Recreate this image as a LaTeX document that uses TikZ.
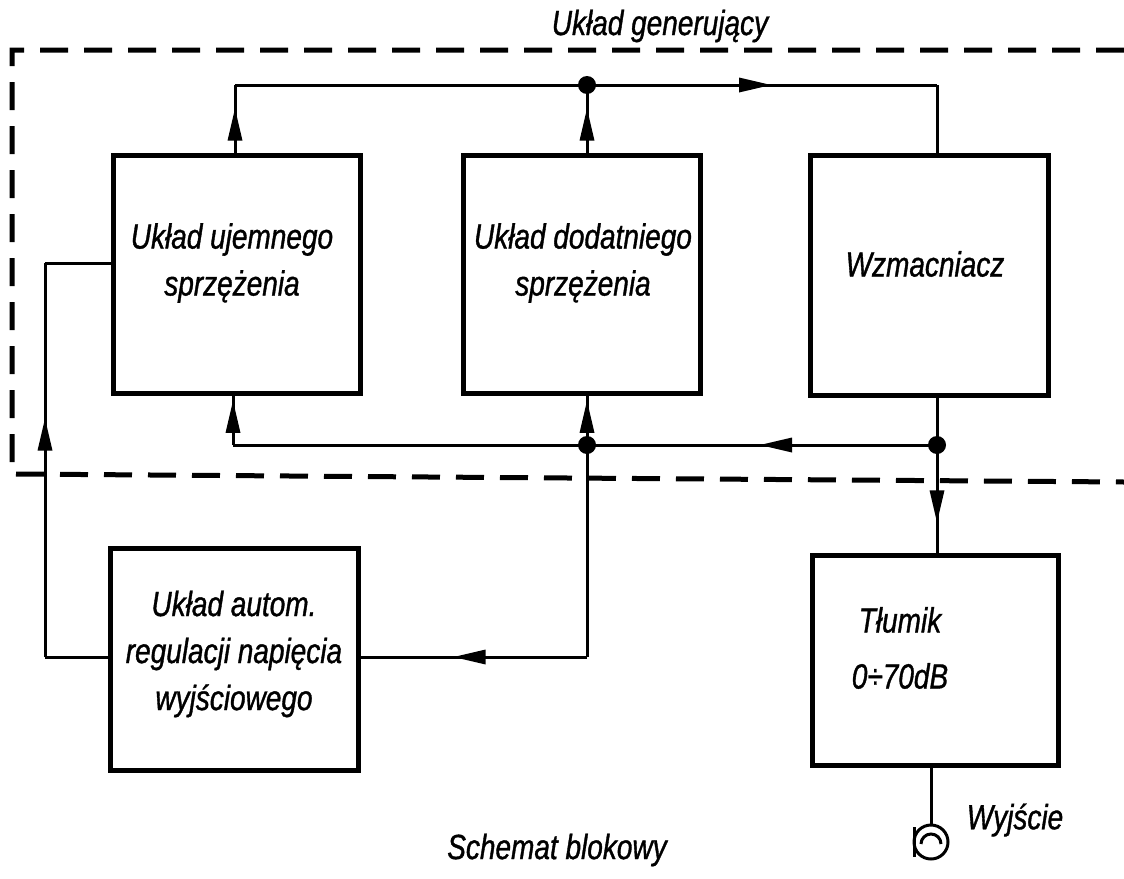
\documentclass[tikz,border=0pt]{standalone}
\usepackage{fontspec}
\setmainfont[FakeStretch=0.8,FakeBold=1]{Liberation Sans}
\usetikzlibrary{arrows.meta,decorations.markings,calc}
\begin{document}
\begin{tikzpicture}[x=1pt,y=-1pt,
  block/.style={draw,line width=5pt,inner sep=0pt},
  conn/.style={line width=3pt},
  tipat/.style={postaction={decorate},decoration={markings,
    mark=at position #1 with {\fill (2,0) -- (-30,7.5) -- (-30,-7.5) -- cycle;}}},
  junction/.style={circle,fill,inner sep=0pt,minimum size=18pt},
  lbl/.style={font=\fontsize{35}{47}\selectfont\itshape,inner sep=0pt,align=center},
  frame/.style={line width=5pt,dash pattern=on 28pt off 16pt}
]
\useasboundingbox (0,0) rectangle (1124,878);
% frame of the generating part
\draw[frame] (1124,50) -- (12,50) -- (12,474) -- (1124,482);
\node[lbl] (gen) at (660,26) {Układ generujący};
% blocks
\node[block,minimum width=247pt,minimum height=238pt] (b1) at (236.5,274) {};
\node[block,minimum width=237pt,minimum height=238pt] (b2) at (581.5,274) {};
\node[block,minimum width=238pt,minimum height=240pt] (b3) at (929,275) {};
\node[block,minimum width=248pt,minimum height=222pt] (b4) at (234,659) {};
\node[block,minimum width=246pt,minimum height=210pt] (b5) at (935,660) {};
% block texts
\node[lbl] (b1t) at (232,263) {Układ ujemnego\\sprzężenia};
\node[lbl] (b2t) at (583,263) {Układ dodatniego\\sprzężenia};
\node[lbl] (b3t) at (925,264) {Wzmacniacz};
\node[lbl] (b4t) at (234,654) {Układ autom.\\regulacji napięcia\\wyjściowego};
\node[lbl] (b5a) at (900,620) {Tłumik};
\node[lbl] (b5b) at (900,676) {0÷70dB};
% junction coordinates
\coordinate (tl) at (235,85);
\coordinate (tj) at (587,85);
\coordinate (tr) at (937,85);
\coordinate (bj) at (937,445);
\coordinate (mj) at (587,445);
\coordinate (bl) at (233,445);
\coordinate (mb) at (587,657);
\coordinate (ll) at (45,657);
\coordinate (lt) at (45,263);
\coordinate (oj) at (931,842);
% upper loop
\draw[conn,tipat=0.62] (b1.north -| tl) -- (tl);
\draw[conn] (tl) -- (tj);
\draw[conn,tipat=0.52] (tj) -- (tr);
\draw[conn] (tr) -- (b3.north -| tr);
\draw[conn,tipat=0.62] (b2.north -| tj) -- (tj);
% lower bus
\draw[conn] (b3.south -| bj) -- (bj);
\draw[conn,tipat=0.5] (bj) -- (mj);
\draw[conn] (mj) -- (bl);
\draw[conn,tipat=0.85] (bl) -- (b1.south -| bl);
\draw[conn,tipat=0.85] (mj) -- (b2.south -| mj);
\draw[conn,tipat=0.7] (bj) -- (b5.north -| bj);
% AGC loop
\draw[conn] (mj) -- (mb);
\draw[conn,tipat=0.58] (mb) -- (b4.east |- mb);
\draw[conn] (b4.west |- ll) -- (ll);
\draw[conn,tipat=0.6] (ll) -- (lt);
\draw[conn] (lt) -- (b1.west |- lt);
% junction dots
\node[junction] (dt) at (tj) {};
\node[junction] (db) at (bj) {};
\node[junction] (dm) at (mj) {};
% output socket
\node[circle,draw,line width=3pt,minimum size=34pt,inner sep=0pt] (sock) at (oj) {};
\draw[conn] (b5.south -| sock.north) -- (sock.north);
\draw[line width=3pt] ($(oj)+(-10,2)$) arc[start angle=180,end angle=360,radius=10];
\draw[line width=3pt] ($(oj)+(-17,-15)$) -- ($(oj)+(-17,15)$);
\node[lbl] (out) at (1015,820) {Wyjście};
\node[lbl] (title) at (557,850) {Schemat blokowy};
\end{tikzpicture}
\end{document}
